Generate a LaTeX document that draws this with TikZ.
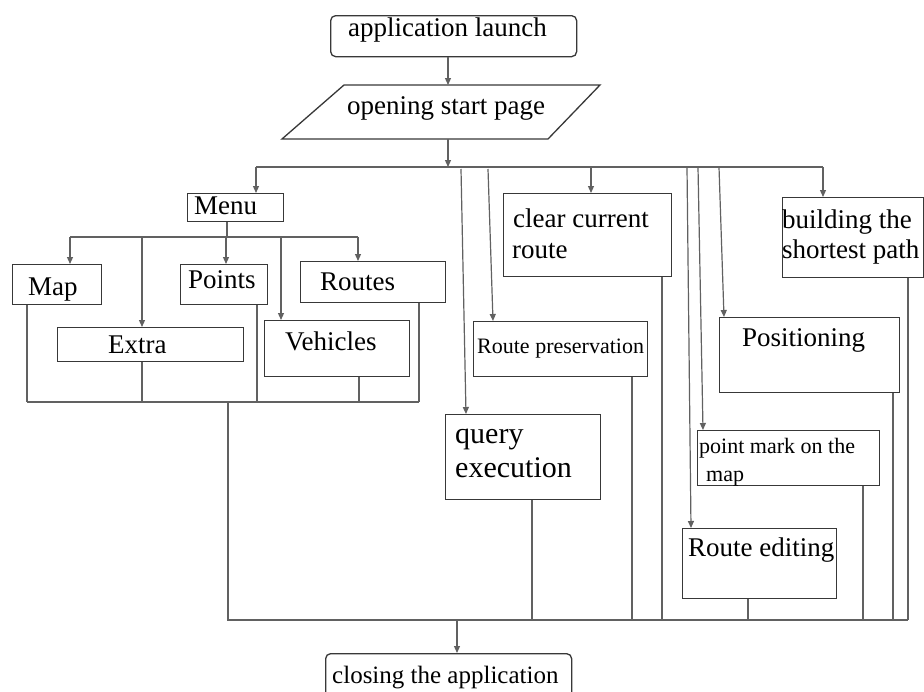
\documentclass[tikz,border=0pt]{standalone}
\usepackage{fontspec}
\setmainfont{Liberation Serif}
\usetikzlibrary{arrows.meta}
\begin{document}
\begin{tikzpicture}[x=1pt,y=-1pt,
  box/.style={draw=black!78, line width=1.3pt, fill=white, anchor=north west, inner sep=0pt},
  ln/.style={draw=black!62, line width=1.2pt},
  arr/.style={ln, -{Triangle[length=7pt,width=6pt]}},
  txt/.style={anchor=base west, inner sep=0pt, font=\fontsize{27}{31}\selectfont},
  btxt/.style={anchor=base west, inner sep=0pt, font=\fontsize{30}{34}\selectfont},
  stxt/.style={anchor=base west, inner sep=0pt, font=\fontsize{22}{26}\selectfont}]
\useasboundingbox (0,0) rectangle (924,691);
\clip (0,0) rectangle (924,691);
\fill[white] (0,0) rectangle (924,691);

% ---------- top ----------
\node[box, rounded corners=5pt, minimum width=246pt, minimum height=41pt] (app) at (330,15) {};
\node[txt] (tapp) at (348,36) {application launch};
\coordinate (opentop) at (448,85);
\coordinate (openbot) at (448,139);
\draw[box] (344,85) -- (600,85) -- (548,139) -- (282,139) -- cycle;
\node[txt] (topen) at (347,114) {opening start page};
\draw[arr] (app.south -| opentop) -- (opentop);

% top bus
\coordinate (b0) at (256,167);
\coordinate (bopen) at (448,167);
\coordinate (bq) at (461,169);
\coordinate (brp) at (488,169);
\coordinate (bcl) at (591,167);
\coordinate (bre) at (687,167);
\coordinate (bpm) at (698,167);
\coordinate (bpo) at (719,167);
\coordinate (bbu) at (823,167);
\draw[ln] (b0) -- (bbu);
\draw[arr] (openbot) -- (bopen);

% ---------- boxes ----------
\node[box, minimum width=96pt, minimum height=28pt] (menu) at (187,193) {};
\node[txt] at (194,214) {Menu};
\node[box, minimum width=89pt, minimum height=40pt] (map) at (12,264) {};
\node[txt] at (28,295) {Map};
\node[box, minimum width=87pt, minimum height=40pt] (points) at (180,264) {};
\node[txt] at (188,288) {Points};
\node[box, minimum width=145pt, minimum height=41pt] (routes) at (300,261) {};
\node[txt] at (320,290) {Routes};
\node[box, minimum width=186pt, minimum height=34pt] (extra) at (57,327) {};
\node[txt] at (108,353) {Extra};
\node[box, minimum width=145pt, minimum height=56pt] (veh) at (264,320) {};
\node[txt] at (285,350) {Vehicles};

\node[box, minimum width=168pt, minimum height=83pt] (clear) at (503,193) {};
\node[txt] at (513,227) {clear current};
\node[txt] at (512,258) {route};
\node[box, minimum width=141pt, minimum height=80pt] (build) at (782,197) {};
\node[txt] at (782,228) {building the};
\node[txt] at (782,258) {shortest path};
\node[box, minimum width=174pt, minimum height=55pt] (rpres) at (473,321) {};
\node[stxt] at (477,353) {Route preservation};
\node[box, minimum width=180pt, minimum height=75pt] (pos) at (719,317) {};
\node[txt] at (742,346) {Positioning};
\node[box, minimum width=155pt, minimum height=85pt] (query) at (445,414) {};
\node[btxt] at (455,443) {query};
\node[btxt] at (455,477) {execution};
\node[box, minimum width=182pt, minimum height=55pt] (pmark) at (697,430) {};
\node[stxt] at (699,453) {point mark on the};
\node[stxt] at (706,481) {map};
\node[box, minimum width=154pt, minimum height=70pt] (redit) at (682,528) {};
\node[txt] at (688,556) {Route editing};
\node[box, rounded corners=5pt, minimum width=246pt, minimum height=50pt] (close) at (325,653) {};
\node[anchor=base west, inner sep=0pt, font=\fontsize{25}{29}\selectfont] at (332,683) {closing the application};

% ---------- arrows from top bus ----------
\draw[arr] (b0) -- (menu.north -| b0);
\draw[arr] (bq) -- ([xshift=21pt]query.north west);
\draw[arr] (brp) -- ([xshift=20pt]rpres.north west);
\draw[arr] (bcl) -- (clear.north -| bcl);
\draw[arr] (bre) -- ([xshift=9pt]redit.north west);
\draw[arr] (bpm) -- ([xshift=6pt]pmark.north west);
\draw[arr] (bpo) -- ([xshift=5pt]pos.north west);
\draw[arr] (bbu) -- (build.north -| bbu);

% ---------- menu bus ----------
\coordinate (mb) at (227,237);
\coordinate (m1) at (70,237);
\coordinate (m2) at (142,237);
\coordinate (m3) at (226,237);
\coordinate (m4) at (281,237);
\coordinate (m5) at (358,237);
\draw[ln] (menu.south -| mb) -- (mb);
\draw[ln] (m1) -- (m5);
\draw[arr] (m1) -- (map.north -| m1);
\draw[arr] (m2) -- (extra.north -| m2);
\draw[arr] (m3) -- (points.north -| m3);
\draw[arr] (m4) -- (veh.north -| m4);
\draw[arr] (m5) -- (routes.north -| m5);

% ---------- lower menu bus ----------
\coordinate (l1) at (27,402);
\coordinate (l2) at (142,402);
\coordinate (l3) at (257,402);
\coordinate (l4) at (359,402);
\coordinate (l5) at (419,402);
\coordinate (lc) at (228,402);
\draw[ln] (l1) -- (l5);
\draw[ln] (map.south -| l1) -- (l1);
\draw[ln] (extra.south -| l2) -- (l2);
\draw[ln] (points.south -| l3) -- (l3);
\draw[ln] (veh.south -| l4) -- (l4);
\draw[ln] (routes.south -| l5) -- (l5);

% ---------- bottom bus ----------
\coordinate (z0) at (228,620);
\coordinate (zq) at (532,620);
\coordinate (zrp) at (632,620);
\coordinate (zcl) at (662,620);
\coordinate (zre) at (748,620);
\coordinate (zpm) at (863,620);
\coordinate (zpo) at (893,620);
\coordinate (zbu) at (908,620);
\coordinate (zc) at (457,620);
\draw[ln] (lc) -- (z0) -- (zbu);
\draw[ln] (query.south -| zq) -- (zq);
\draw[ln] (rpres.south -| zrp) -- (zrp);
\draw[ln] (clear.south -| zcl) -- (zcl);
\draw[ln] (redit.south -| zre) -- (zre);
\draw[ln] (pmark.south -| zpm) -- (zpm);
\draw[ln] (pos.south -| zpo) -- (zpo);
\draw[ln] (build.south -| zbu) -- (zbu);
\draw[arr] (zc) -- (close.north -| zc);
\end{tikzpicture}
\end{document}
